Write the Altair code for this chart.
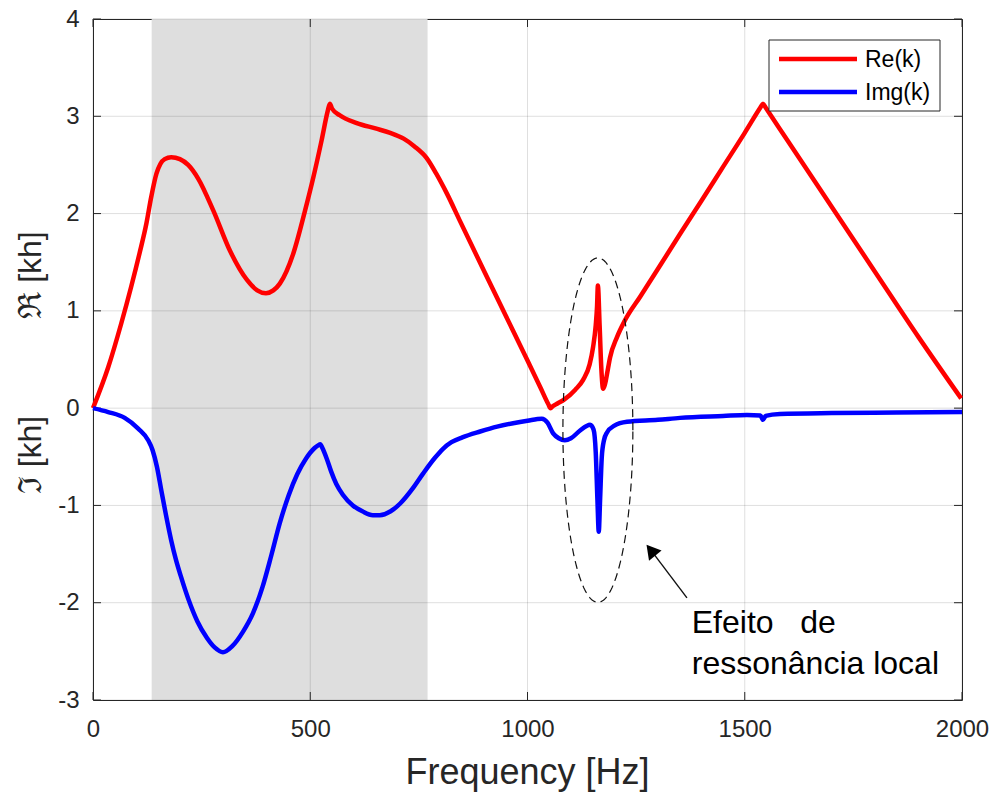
import altair as alt
import pandas as pd
import numpy as np

# ---------------- data ----------------
re_freq = [0, 35, 65, 88, 107, 123, 134, 146, 155, 165, 180, 200, 219, 242, 277, 315, 354, 378, 398,
           415, 430, 461, 488, 507, 526, 540, 545, 550, 568, 607, 650, 684, 715, 740, 768, 790, 814,
           845, 900, 950, 1000, 1030, 1048, 1053, 1058, 1070, 1085, 1110, 1128, 1143, 1151, 1157,
           1160, 1162, 1166, 1170, 1174, 1178, 1185, 1190, 1206, 1224, 1260, 1300, 1351, 1400, 1450,
           1500, 1536, 1542, 1548, 1600, 1700, 1800, 1900, 1998]
re_vals = [0.0, 0.42, 0.87, 1.25, 1.59, 1.9, 2.17, 2.41, 2.51, 2.56, 2.58, 2.56, 2.5, 2.36, 2.03,
           1.62, 1.32, 1.21, 1.18, 1.21, 1.28, 1.59, 2.03, 2.37, 2.75, 3.05, 3.13, 3.08, 3.01, 2.93,
           2.875, 2.83, 2.77, 2.69, 2.57, 2.41, 2.21, 1.92, 1.41, 0.95, 0.49, 0.21, 0.04, 0.0, 0.02,
           0.05, 0.09, 0.19, 0.29, 0.45, 0.63, 0.85, 1.04, 1.26, 0.85, 0.4, 0.2, 0.24, 0.4, 0.52,
           0.73, 0.9, 1.15, 1.43, 1.79, 2.13, 2.48, 2.83, 3.09, 3.13, 3.09, 2.74, 2.07, 1.40, 0.73,
           0.1]

img_freq = [0, 35, 73, 104, 127, 137, 147, 157, 168, 180, 191, 203, 220, 240, 262, 280, 299, 320,
            345, 368, 390, 410, 430, 450, 470, 490, 510, 519, 523, 528, 538, 548, 560, 575, 598, 620,
            644, 660, 685, 707, 735, 760, 787, 805, 825, 850, 891, 930, 967, 1000, 1033, 1046, 1059,
            1072, 1086, 1100, 1121, 1144, 1152, 1157, 1161, 1164, 1167, 1171, 1176, 1183, 1200, 1229,
            1300, 1351, 1450, 1505, 1536, 1542, 1548, 1581, 1700, 1850, 2000]
img_vals = [0.0, -0.04, -0.1, -0.21, -0.33, -0.43, -0.6, -0.84, -1.1, -1.36, -1.56, -1.74, -1.97,
            -2.19, -2.36, -2.46, -2.51, -2.45, -2.3, -2.11, -1.84, -1.52, -1.18, -0.9, -0.68, -0.52,
            -0.41, -0.38, -0.37, -0.41, -0.52, -0.65, -0.78, -0.89, -1.0, -1.06, -1.1, -1.1, -1.06,
            -0.98, -0.83, -0.67, -0.51, -0.42, -0.35, -0.3, -0.24, -0.19, -0.155, -0.13, -0.11,
            -0.15, -0.26, -0.31, -0.33, -0.31, -0.23, -0.17, -0.22, -0.45, -0.95, -1.27, -0.95,
            -0.5, -0.33, -0.25, -0.18, -0.14, -0.12, -0.1, -0.08, -0.07, -0.075, -0.12, -0.08,
            -0.06, -0.05, -0.045, -0.04]

series_names = ["Re(k)", "Img(k)"]
series_colors = ["#ff0000", "#0000ff"]

x_ticks = [0, 500, 1000, 1500, 2000]
y_ticks = [-3, -2, -1, 0, 1, 2, 3, 4]
band_range = [135, 770]

ellipse_center = [1162, -0.226]
ellipse_radii = [80.5, 1.77]
arrow_tail = [1367, -1.95]
arrow_head = [1284, -1.46]
note_x = 1378
note_lines = ["Efeito\u00a0\u00a0\u00a0de", "ressonância local"]
note_y = [-2.31, -2.73]

W, H = 869, 681
FONT = "Liberation Sans"
INK = "#262626"

# ---------------- tables ----------------
lines_df = pd.concat([
    pd.DataFrame({"f": re_freq, "v": re_vals, "s": series_names[0]}),
    pd.DataFrame({"f": img_freq, "v": img_vals, "s": series_names[1]}),
])
band_df = pd.DataFrame({"f": [band_range[0]], "f2": [band_range[1]]})
xt_df = pd.DataFrame({"f": x_ticks})
yt_df = pd.DataFrame({"v": y_ticks})
t = np.linspace(0, 2 * np.pi, 241)
ell_df = pd.DataFrame({
    "f": ellipse_center[0] + ellipse_radii[0] * np.cos(t),
    "v": ellipse_center[1] + ellipse_radii[1] * np.sin(t),
    "i": np.arange(len(t)),
})
arrow_df = pd.DataFrame({"f": [arrow_tail[0]], "v": [arrow_tail[1]],
                         "f2": [arrow_head[0]], "v2": [arrow_head[1]]})
head_df = pd.DataFrame({"f": [arrow_head[0]], "v": [arrow_head[1]]})
note_df = pd.DataFrame({"f": [note_x, note_x], "v": note_y, "txt": note_lines})

xs = alt.Scale(domain=[0, 2000], nice=False, zero=False)
ys = alt.Scale(domain=[-3, 4], nice=False, zero=False)

x_axis = alt.Axis(values=x_ticks, title=None, grid=False, ticks=False, domain=False,
                  labelFontSize=24, labelColor=INK, labelPadding=17, labelExpr="'' + datum.value",
                  labelFont=FONT, labelFlush=False, labelOverlap=False)
y_axis = alt.Axis(values=y_ticks, title=None, grid=False, ticks=False, domain=False,
                  labelFontSize=24, labelColor=INK, labelPadding=14, labelExpr="'' + datum.value",
                  labelFont=FONT, labelFlush=False, labelOverlap=False)


def X(field="f"):
    return alt.X(f"{field}:Q", scale=xs, axis=x_axis)


def Y(field="v"):
    return alt.Y(f"{field}:Q", scale=ys, axis=y_axis)


band = alt.Chart(band_df).mark_rect(color="#dedede").encode(
    x=X(), x2="f2:Q", y=alt.value(0), y2=alt.value(H))

grid_x = alt.Chart(xt_df).mark_rule(color=INK, opacity=0.15, strokeWidth=1).encode(x=X())
grid_y = alt.Chart(yt_df).mark_rule(color=INK, opacity=0.15, strokeWidth=1).encode(y=Y())

tick_b = alt.Chart(xt_df).mark_rule(color=INK, strokeWidth=1).encode(
    x=X(), y=alt.value(H), y2=alt.value(H - 8))
tick_t = alt.Chart(xt_df).mark_rule(color=INK, strokeWidth=1).encode(
    x=X(), y=alt.value(0), y2=alt.value(8))
tick_l = alt.Chart(yt_df).mark_rule(color=INK, strokeWidth=1).encode(
    y=Y(), x=alt.value(0), x2=alt.value(8))
tick_r = alt.Chart(yt_df).mark_rule(color=INK, strokeWidth=1).encode(
    y=Y(), x=alt.value(W), x2=alt.value(W - 8))

lines = alt.Chart(lines_df).mark_line(strokeWidth=4.5, interpolate="monotone").encode(
    x=X(), y=Y(),
    color=alt.Color("s:N", scale=alt.Scale(domain=series_names, range=series_colors), legend=None),
    detail="s:N",
)

ellipse = alt.Chart(ell_df).mark_line(color="#111111", strokeWidth=1.2, strokeDash=[8, 5]).encode(
    x=X(), y=Y(), order="i:Q")

arrow = alt.Chart(arrow_df).mark_rule(color="#111111", strokeWidth=1.4).encode(
    x=X(), x2="f2:Q", y=Y(), y2="v2:Q")
head = alt.Chart(head_df).mark_point(shape="triangle-up", filled=True, color="#000000",
                                     size=260, angle=321, opacity=1).encode(x=X(), y=Y())

note = alt.Chart(note_df).mark_text(align="left", baseline="alphabetic", fontSize=32,
                                    font=FONT, color="#000000").encode(
    x=X(), y=Y(), text="txt:N")

# titles
one = pd.DataFrame({"k": [0]})
x_title = alt.Chart(one).mark_text(text="Frequency [Hz]", fontSize=36, font=FONT, color=INK,
                                   align="center", baseline="alphabetic").encode(
    x=alt.value(W / 2), y=alt.value(H + 84))
y_title_re = alt.Chart(one).mark_text(text="ℜ [kh]", fontSize=32, font=FONT, color=INK,
                                      align="center", baseline="middle", angle=270).encode(
    x=alt.value(-62), y=alt.value(256))
y_title_im = alt.Chart(one).mark_text(text="ℑ [kh]", fontSize=32, font=FONT, color=INK,
                                      align="center", baseline="middle", angle=270).encode(
    x=alt.value(-62), y=alt.value(436))

# legend box
leg_box = alt.Chart(one).mark_rect(fill="white", stroke=INK, strokeWidth=1).encode(
    x=alt.value(676), x2=alt.value(847), y=alt.value(21), y2=alt.value(92))
leg_re = alt.Chart(one).mark_rule(color=series_colors[0], strokeWidth=4.5).encode(
    x=alt.value(686), x2=alt.value(764), y=alt.value(40))
leg_im = alt.Chart(one).mark_rule(color=series_colors[1], strokeWidth=4.5).encode(
    x=alt.value(686), x2=alt.value(764), y=alt.value(73))
leg_re_t = alt.Chart(one).mark_text(text=series_names[0], fontSize=23, font=FONT, color="#000000",
                                    align="left", baseline="middle").encode(
    x=alt.value(772), y=alt.value(41))
leg_im_t = alt.Chart(one).mark_text(text=series_names[1], fontSize=23, font=FONT, color="#000000",
                                    align="left", baseline="middle").encode(
    x=alt.value(772), y=alt.value(74))

chart = alt.layer(
    band, grid_x, grid_y, tick_b, tick_t, tick_l, tick_r,
    lines, ellipse, arrow, head, note,
    x_title, y_title_re, y_title_im,
    leg_box, leg_re, leg_im, leg_re_t, leg_im_t,
).properties(
    width=W, height=H,
    autosize=alt.AutoSizeParams(type="none"),
    padding={"left": 93, "top": 19, "right": 34, "bottom": 101},
).configure(font=FONT, background="white").configure_view(stroke=INK, strokeWidth=1)

chart.save("out.html", embed_options={"renderer": "svg", "actions": False})
